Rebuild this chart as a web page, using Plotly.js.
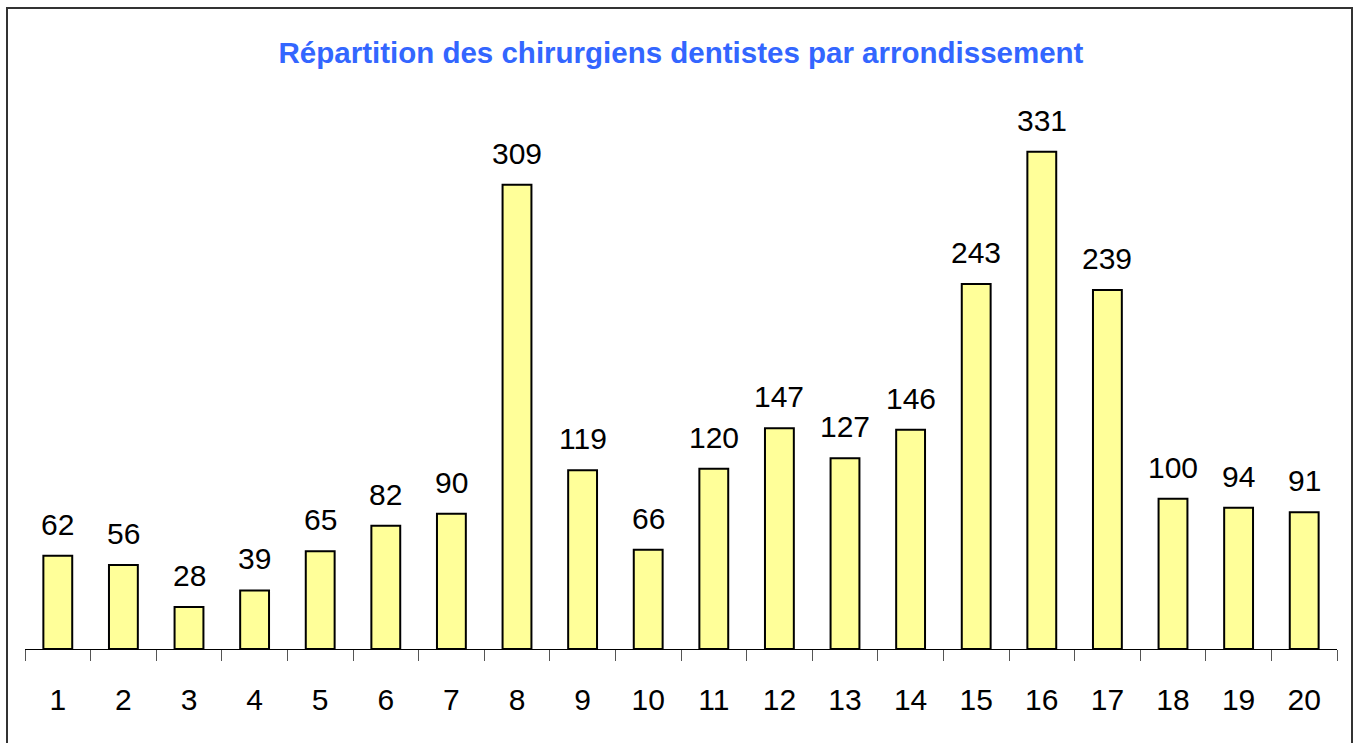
<!DOCTYPE html>
<html>
<head>
<meta charset="utf-8">
<script src="https://cdn.plot.ly/plotly-3.0.1.min.js"></script>
<style>
  html, body { margin: 0; padding: 0; background: #fff; }
  #wrap { position: relative; width: 1362px; height: 743px; overflow: hidden; }
  #chart { width: 1362px; height: 743px; }
  #frame { position: absolute; left: 6px; top: 7px; width: 1347px; height: 760px;
           border: 2px solid #333; pointer-events: none; box-sizing: border-box; }
</style>
</head>
<body>
<div id="wrap">
  <div id="chart"></div>
  <div id="frame"></div>
</div>
<script>
const arrondissements = ["1","2","3","4","5","6","7","8","9","10","11","12","13","14","15","16","17","18","19","20"];
const dentistes = [62, 56, 28, 39, 65, 82, 90, 309, 119, 66, 120, 147, 127, 146, 243, 331, 239, 100, 94, 91];
const titre = "Répartition des chirurgiens dentistes par arrondissement";

const font = "Liberation Sans, Arial, sans-serif";

const trace = {
  type: "bar",
  x: arrondissements,
  y: dentistes,
  width: 0.44,
  marker: { color: "#FFFF99", line: { color: "#000", width: 2 } },
  hoverinfo: "x+y"
};

// on a category axis, annotation x is the category index
const annotations = arrondissements.map((c, i) => ({
  x: i, y: dentistes[i], xref: "x", yref: "y",
  text: String(dentistes[i]), showarrow: false,
  yanchor: "bottom", yshift: 13,
  font: { family: font, size: 30, color: "#000" }
}));

const layout = {
  width: 1362, height: 743,
  margin: { l: 25, r: 25, t: 100, b: 94 },
  paper_bgcolor: "#fff", plot_bgcolor: "#fff",
  showlegend: false,
  title: {
    text: titre,
    font: { family: font, size: 29.5, color: "#3366FF", weight: "bold" },
    x: 0.5, xanchor: "center", y: 1 - 53/743, yanchor: "middle", yref: "container"
  },
  xaxis: {
    type: "category",
    range: [-0.5, 19.5],
    tickson: "boundaries",
    ticks: "outside", ticklen: 11, tickcolor: "#555", tickwidth: 1,
    showline: true, linecolor: "#000", linewidth: 1,
    showgrid: false, zeroline: false,
    tickfont: { family: font, size: 30, color: "#000" },
    ticklabelstandoff: 24,
    fixedrange: true
  },
  yaxis: {
    range: [0, 365.5],
    visible: false, showgrid: false, zeroline: false,
    fixedrange: true
  },
  annotations: annotations
};

Plotly.newPlot("chart", [trace], layout, { displayModeBar: false, staticPlot: true });
</script>
</body>
</html>
